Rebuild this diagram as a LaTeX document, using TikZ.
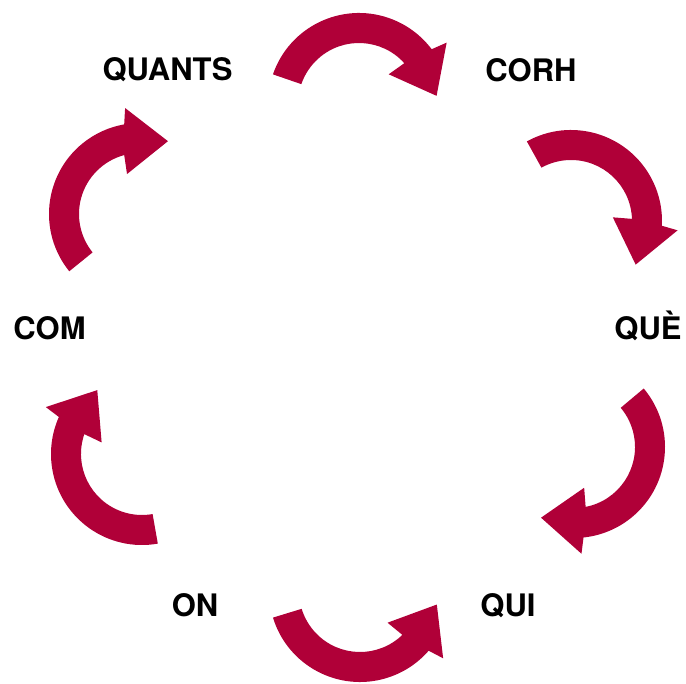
\documentclass[tikz,border=0pt]{standalone}
\usepackage{fontspec}
\setmainfont{TeX Gyre Heros}
\usetikzlibrary{calc}
\definecolor{arrowred}{RGB}{176,0,56}
\newcommand\cycarrow[5]{%
 \pgfmathsetmacro\cyAo{#4+3*#5}%
 \pgfmathsetmacro\cyAb{#4+5*#5}%
 \pgfmathsetmacro\cyAt{#4+34*#5}%
 \pgfmathsetmacro\cyAi{#4-5*#5}%
 \pgfmathsetmacro\cyAn{#4-2*#5}%
 \fill[arrowred] ($(#1,#2)+(#3:91)$) arc[start angle=#3, end angle=\cyAo, radius=91]
   -- ($(#1,#2)+(\cyAb:107)$) -- ($(#1,#2)+(\cyAt:78)$) -- ($(#1,#2)+(\cyAi:42)$)
   -- ($(#1,#2)+(\cyAn:61)$) arc[start angle=\cyAn, end angle=#3, radius=61] -- cycle;}
\tikzset{lbl/.style={font=\bfseries\fontsize{31}{37}\selectfont, anchor=base, inner sep=0pt}}
\begin{document}
\begin{tikzpicture}[x=1pt,y=-1pt]
\useasboundingbox (0,0) rectangle (686,684);
\cycarrow{359}{104}{199}{320}{1}
\cycarrow{571}{221}{241}{360}{1}
\cycarrow{574}{447}{320}{441}{1}
\cycarrow{360}{591}{163}{44}{-1}
\cycarrow{142}{454}{80}{201}{1}
\cycarrow{140}{214}{141}{257}{1}
\node[lbl] (quants) at (167.5,80.5) {QUANTS};
\node[lbl] (corh) at (531,81.5) {CORH};
\node[lbl] (que) at (648,339.5) {QUÈ};
\node[lbl] (qui) at (508,616.5) {QUI};
\node[lbl] (on) at (195,616.5) {ON};
\node[lbl] (com) at (49.5,339.5) {COM};
\end{tikzpicture}
\end{document}
